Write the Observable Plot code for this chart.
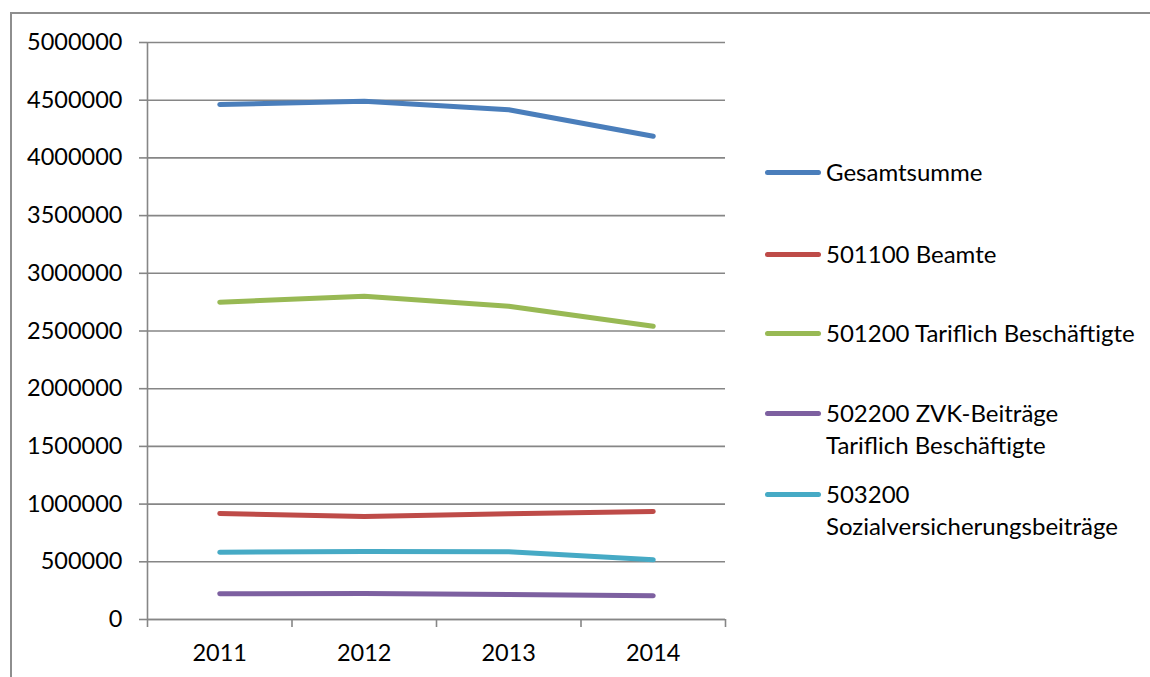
<!DOCTYPE html>
<html>
<head>
<meta charset="utf-8">
<script src="https://cdn.jsdelivr.net/npm/d3@7"></script>
<script src="https://cdn.jsdelivr.net/npm/@observablehq/plot@0.6"></script>
<style>
  html, body { margin: 0; padding: 0; background: #fff; }
  #wrap { position: relative; width: 1150px; height: 677px; overflow: hidden; font-family: Lato, "Open Sans", sans-serif; }
  #frame { position: absolute; left: 10px; top: 12px; width: 1200px; height: 700px; border-top: 2px solid #8e8e8e; border-left: 2px solid #8e8e8e; box-sizing: border-box; }
  #chart { position: absolute; left: 0; top: 0; }
  #legend { position: absolute; left: 765px; top: 0; font-size: 24px; color: #000; }
  .item { position: absolute; left: 0; white-space: nowrap; }
  .swatch { position: absolute; left: 0; width: 56px; height: 5px; border-radius: 3px; }
  .label { position: absolute; left: 61px; line-height: 32px; }
</style>
</head>
<body>
<div id="wrap">
  <div id="frame"></div>
  <div id="chart"></div>
  <div id="legend"></div>
</div>
<script>
const years = [2011, 2012, 2013, 2014];
const seriesNames = [
  "Gesamtsumme",
  "501100 Beamte",
  "501200 Tariflich Beschäftigte",
  "502200 ZVK-Beiträge Tariflich Beschäftigte",
  "503200 Sozialversicherungsbeiträge"
];
const legendLines = [
  ["Gesamtsumme"],
  ["501100 Beamte"],
  ["501200 Tariflich Beschäftigte"],
  ["502200 ZVK-Beiträge", "Tariflich Beschäftigte"],
  ["503200", "Sozialversicherungsbeiträge"]
];
const gesamtsumme = [4463000, 4491000, 4417000, 4188000];
const beamte = [919000, 893000, 916000, 936000];
const tariflich = [2750000, 2802000, 2715000, 2542000];
const zvk = [223000, 225000, 217000, 205000];
const sozial = [583000, 589000, 587000, 517000];
const colors = ["#4a7ebb", "#be4b48", "#98b954", "#7d60a0", "#46aac5"];
const yTicks = [0, 500000, 1000000, 1500000, 2000000, 2500000, 3000000, 3500000, 4000000, 4500000, 5000000];
const xBounds = [2010.5, 2011.5, 2012.5, 2013.5, 2014.5];

const valueArrays = [gesamtsumme, beamte, tariflich, zvk, sozial];
const data = [];
seriesNames.forEach((s, i) => years.forEach((yr, j) => data.push({series: s, year: yr, value: valueArrays[i][j]})));

const gridColor = "#868686";
const plot = Plot.plot({
  width: 1150,
  height: 677,
  marginLeft: 147,
  marginRight: 425,
  marginTop: 42,
  marginBottom: 58,
  style: {fontFamily: "Lato, 'Open Sans', sans-serif", fontSize: "23.5px", color: "#000", background: "transparent"},
  x: {type: "linear", domain: [2010.5, 2014.5]},
  y: {domain: [0, 5000000]},
  color: {domain: seriesNames, range: colors},
  marks: [
    Plot.gridY(yTicks, {stroke: gridColor, strokeOpacity: 1, strokeWidth: 1.6}),
    Plot.axisY({ticks: yTicks, tickSize: 8, tickPadding: 17, tickFormat: d => String(d), stroke: gridColor, strokeWidth: 1.6, label: null, fill: "#000", fontSize: 23.5}),
    Plot.axisX({ticks: xBounds, tickSize: 8, tickFormat: () => "", stroke: gridColor, strokeWidth: 1.6, label: null}),
    Plot.axisX({ticks: years, tickSize: 0, tickPadding: 25, tickFormat: d => String(d), label: null, fill: "#000", fontSize: 23.5}),
    Plot.ruleX([2010.5], {stroke: gridColor, strokeWidth: 1.6}),
    Plot.ruleY([0], {stroke: gridColor, strokeWidth: 1.6}),
    Plot.line(data, {x: "year", y: "value", z: "series", stroke: "series", strokeWidth: 5, strokeLinecap: "round", strokeLinejoin: "round"})
  ]
});
document.getElementById("chart").appendChild(plot);

const legendTops = [172, 254, 333, 413, 494];
const legend = document.getElementById("legend");
legendLines.forEach((lines, i) => {
  const item = document.createElement("div");
  item.className = "item";
  item.style.top = legendTops[i] + "px";
  const sw = document.createElement("div");
  sw.className = "swatch";
  sw.style.background = colors[i];
  sw.style.top = "-2.5px";
  item.appendChild(sw);
  const lab = document.createElement("div");
  lab.className = "label";
  lab.style.top = "-16px";
  lab.innerHTML = lines.join("<br>");
  item.appendChild(lab);
  legend.appendChild(item);
});
</script>
</body>
</html>
